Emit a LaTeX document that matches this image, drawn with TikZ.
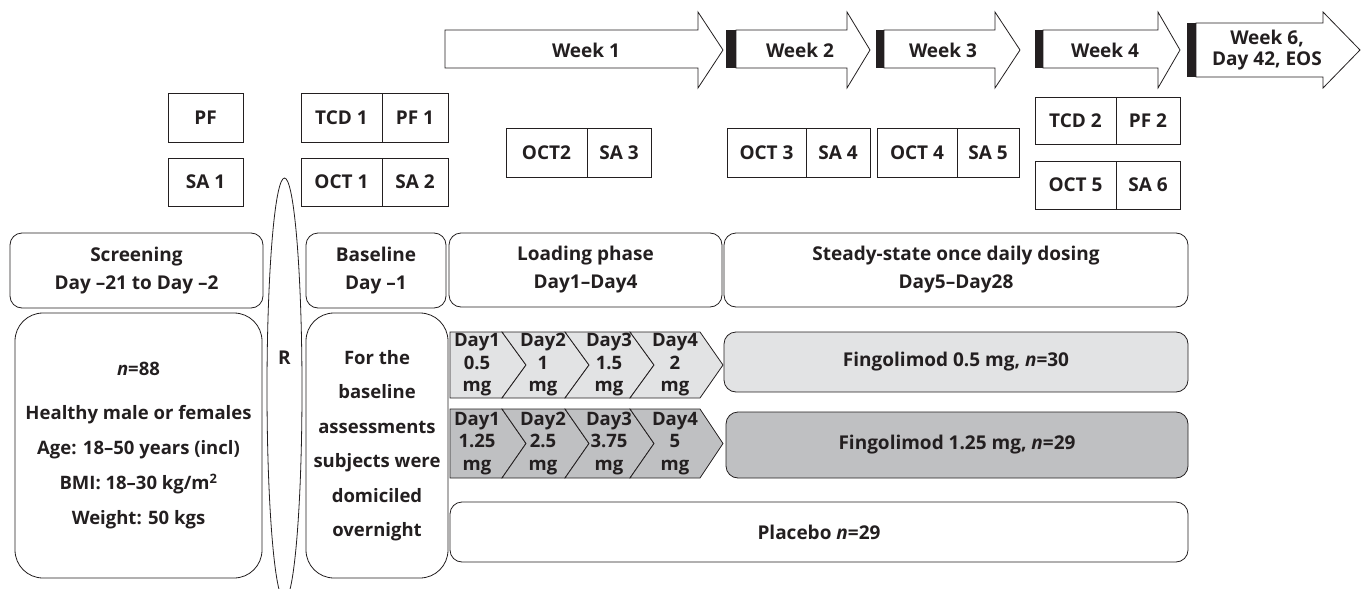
\documentclass[tikz,border=0pt]{standalone}
\usepackage{fontspec}
\setmainfont{Open Sans}
\definecolor{ink}{HTML}{231F20}
\definecolor{lightg}{HTML}{E2E3E4}
\definecolor{darkg}{HTML}{BFC0C2}
\newcommand\boxat[7]{%
  \node[#1, minimum width={(#4-#3)*1pt}, minimum height={(#6-#5)*1pt}] (#2) at ({(#3+#4)/2},{(#5+#6)/2}) {#7};}
\begin{document}
\begin{tikzpicture}[x=1pt,y=-1pt,
  every node/.style={text=ink, font=\bfseries\fontsize{19}{20}\selectfont},
  cell/.style={draw=ink, line width=0.8pt, inner sep=0pt, outer sep=0pt, align=center},
  rbox/.style={cell, rounded corners=12pt},
  rbig/.style={cell, rounded corners=28pt},
  arr/.style={draw=ink, line width=0.8pt, fill=white, line join=miter},
  bar/.style={fill=ink},
  lbl/.style={align=center, inner sep=0pt},
  chev/.style={draw=ink, line width=0.8pt, line join=miter},
  chevtxt/.style={align=center, inner sep=0pt, font=\bfseries\fontsize{18.5}{22.5}\selectfont}
]
\useasboundingbox (0,0) rectangle (1361,589);

% ---- week arrows ----
\draw[arr] (445,30) -- (698,30) -- (698,12) -- (723,50) -- (698,88) -- (698,68) -- (445,68) -- cycle;
\node[lbl] (w1) at (586,50) {Week 1};
\fill[bar] (726,30) rectangle (736,68);
\draw[arr] (736,30) -- (847,30) -- (847,12) -- (870,50) -- (847,88) -- (847,68) -- (736,68) -- cycle;
\node[lbl] (w2) at (800,50) {Week 2};
\fill[bar] (876,30) rectangle (884,68);
\draw[arr] (884,30) -- (995,30) -- (995,12) -- (1020,50) -- (995,88) -- (995,68) -- (884,68) -- cycle;
\node[lbl] (w3) at (943,50) {Week 3};
\fill[bar] (1035,30) rectangle (1043,68);
\draw[arr] (1043,30) -- (1158,30) -- (1158,12) -- (1180,50) -- (1158,88) -- (1158,68) -- (1043,68) -- cycle;
\node[lbl] (w4) at (1105,50) {Week 4};
\fill[bar] (1187,23) rectangle (1196,77);
\draw[arr] (1196,23) -- (1323,23) -- (1323,12) -- (1360,50) -- (1323,88) -- (1323,77) -- (1196,77) -- cycle;
\node[lbl, font=\bfseries\fontsize{19}{21}\selectfont] (w6) at (1267,50) {Week 6,\\Day 42, EOS};

% ---- assessment cells ----
\boxat{cell}{pf}{168}{243}{93}{142}{PF}
\boxat{cell}{sa1}{168}{243}{158}{206}{SA 1}
\boxat{cell}{tcd1}{301}{382}{93}{142}{TCD 1}
\boxat{cell}{pf1}{382}{448}{93}{142}{PF 1}
\boxat{cell}{oct1}{301}{382}{158}{206}{OCT 1}
\boxat{cell}{sa2}{382}{448}{158}{206}{SA 2}
\boxat{cell}{oct2}{506}{587}{128}{177}{OCT2}
\boxat{cell}{sa3}{587}{651}{128}{177}{SA 3}
\boxat{cell}{oct3}{727}{806}{128}{177}{OCT 3}
\boxat{cell}{sa4}{806}{870}{128}{177}{SA 4}
\boxat{cell}{oct4}{877}{957}{128}{177}{OCT 4}
\boxat{cell}{sa5}{957}{1019}{128}{177}{SA 5}
\boxat{cell}{tcd2}{1035}{1116}{97}{144}{TCD 2}
\boxat{cell}{pf2}{1116}{1180}{97}{144}{PF 2}
\boxat{cell}{oct5}{1035}{1116}{161}{209}{OCT 5}
\boxat{cell}{sa6}{1116}{1180}{161}{209}{SA 6}

% ---- randomisation ----
\draw[ink, line width=0.8pt] (284.5,389) ellipse (17.5 and 211);
\node[lbl] (r) at (284.5,358) {R};

% ---- phase boxes ----
\boxat{rbox, font=\bfseries\fontsize{19}{28}\selectfont}{scr}{10}{263}{233}{308}{Screening\\Day –21 to Day –2}
\boxat{rbox, font=\bfseries\fontsize{19}{28}\selectfont}{base}{306}{446}{233}{308}{Baseline\\Day –1}
\boxat{rbox, font=\bfseries\fontsize{19}{28}\selectfont}{load}{449}{722}{233}{307}{Loading phase\\Day1–Day4}
\boxat{rbox, font=\bfseries\fontsize{19}{28}\selectfont}{steady}{724}{1188}{233}{307}{Steady-state once daily dosing\\Day5–Day28}

\boxat{rbig, font=\bfseries\fontsize{18.5}{35}\selectfont}{subj}{15}{262}{313}{578}{\textit{n}=88\\[9pt]Healthy male or females\\Age: 18–50 years (incl)\\BMI: 18–30 kg/m\textsuperscript{2}\\Weight: 50 kgs}
\boxat{rbig, font=\bfseries\fontsize{18.5}{34.5}\selectfont}{dom}{306}{448}{313}{578}{For the\\baseline\\assessments\\subjects were\\domiciled\\overnight}

% ---- loading chevrons, 0.5 mg ----
\draw[chev, fill=lightg] (450,332) -- (502,332) -- (526,365) -- (502,398) -- (450,398) -- cycle;
\draw[chev, fill=lightg] (502,332) -- (565,332) -- (589,365) -- (565,398) -- (502,398) -- (526,365) -- cycle;
\draw[chev, fill=lightg] (565,332) -- (630,332) -- (654,365) -- (630,398) -- (565,398) -- (589,365) -- cycle;
\draw[chev, fill=lightg] (630,332) -- (700,332) -- (723,365) -- (700,398) -- (630,398) -- (654,365) -- cycle;
\node[chevtxt] (a1) at (477,365) {Day1\\0.5\\mg};
\node[chevtxt] (a2) at (543,365) {Day2\\1\\mg};
\node[chevtxt] (a3) at (609,365) {Day3\\1.5\\mg};
\node[chevtxt] (a4) at (675,365) {Day4\\2\\mg};

% ---- loading chevrons, 1.25 mg ----
\draw[chev, fill=darkg] (450,409) -- (502,409) -- (526,443.5) -- (502,478) -- (450,478) -- cycle;
\draw[chev, fill=darkg] (502,409) -- (565,409) -- (589,443.5) -- (565,478) -- (502,478) -- (526,443.5) -- cycle;
\draw[chev, fill=darkg] (565,409) -- (630,409) -- (654,443.5) -- (630,478) -- (565,478) -- (589,443.5) -- cycle;
\draw[chev, fill=darkg] (630,409) -- (700,409) -- (723,443.5) -- (700,478) -- (630,478) -- (654,443.5) -- cycle;
\node[chevtxt] (b1) at (477,443.5) {Day1\\1.25\\mg};
\node[chevtxt] (b2) at (543,443.5) {Day2\\2.5\\mg};
\node[chevtxt] (b3) at (609,443.5) {Day3\\3.75\\mg};
\node[chevtxt] (b4) at (675,443.5) {Day4\\5\\mg};

% ---- arms ----
\boxat{rbox, fill=lightg}{arm1}{724}{1188}{332}{392}{Fingolimod 0.5 mg, \textit{n}=30}
\boxat{rbox, fill=darkg}{arm2}{726}{1188}{412}{478}{Fingolimod 1.25 mg, \textit{n}=29}
\boxat{rbox}{plac}{450}{1188}{502}{562}{Placebo \textit{n}=29}
\end{tikzpicture}
\end{document}
